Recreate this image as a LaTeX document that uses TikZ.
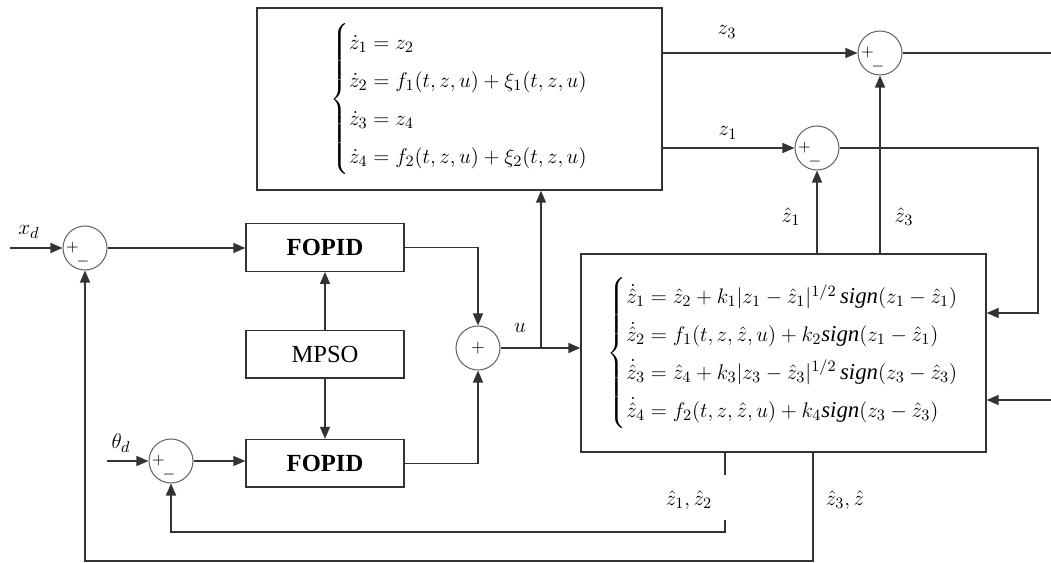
\documentclass[tikz,border=0pt]{standalone}
\usepackage{amsmath}
\usepackage{fontspec}
\setmainfont{Liberation Serif}
\usepackage{tikz}
\usetikzlibrary{arrows.meta,calc,positioning}
\definecolor{Line}{HTML}{333333}
\definecolor{Ring}{HTML}{666666}
\tikzset{block/.style={draw=Line,line width=.8pt,minimum width=3.16cm,minimum height=.95cm,align=center,font=\fontsize{14}{16}\selectfont},eqbox/.style={draw=Line,line width=.8pt,minimum width=8.1cm,align=left,inner sep=0pt,font=\fontsize{13}{16}\selectfont},sum/.style={circle,draw=Ring,line width=.6pt,minimum size=.88cm,inner sep=0pt},pm/.style={sum,path picture={\node[font=\small] at ([xshift=-.25cm]path picture bounding box.center){$+$};\node[font=\small] at ([xshift=-.04cm,yshift=-.27cm]path picture bounding box.center){$-$};}},flow/.style={-{Triangle[length=2.4mm,width=2mm]},line width=.8pt,draw=Line},wire/.style={line width=.8pt,draw=Line},sig/.style={font=\fontsize{13}{15}\selectfont}}

\begin{document}
\begin{tikzpicture}[x=0.02cm,y=-0.02cm]
      \useasboundingbox (0,0) rectangle (1051,563);
      % system and observer
      \node[eqbox,minimum height=3.64cm](plant) at (459.5,99){\renewcommand{\arraystretch}{1.35}$\left\{\begin{array}{@{}l@{}}
        \dot z_1 = z_2\\
        \dot z_2 = f_1(t,z,u)+\xi_1(t,z,u)\\
        \dot z_3 = z_4\\
        \dot z_4 = f_2(t,z,u)+\xi_2(t,z,u)
        \end{array}\right.$};
      \node[eqbox,minimum height=3.96cm](obs) at (783.5,353){\renewcommand{\arraystretch}{1.35}$\left\{\begin{array}{@{}l@{}}
        \dot{\hat z}_1 = \hat z_2+k_1|z_1-\hat z_1|^{1/2}\,\mathit{sign}(z_1-\hat z_1)\\
        \dot{\hat z}_2 = f_1(t,z,\hat z,u)+k_2\mathit{sign}(z_1-\hat z_1)\\
        \dot{\hat z}_3 = \hat z_4+k_3|z_3-\hat z_3|^{1/2}\,\mathit{sign}(z_3-\hat z_3)\\
        \dot{\hat z}_4 = f_2(t,z,\hat z,u)+k_4\mathit{sign}(z_3-\hat z_3)
        \end{array}\right.$};
      % controllers
      \node[block](fopid1) at (325,247.5){\textbf{FOPID}};
      \node[block,below=1.16cm of fopid1](mpso){MPSO};
      \node[block,below=1.2cm of mpso](fopid2){\textbf{FOPID}};
      % summing junctions
      \node[pm](sumx) at (85,248){};
      \node[pm](sumth) at (171,461){};
      \node[sum](sumu) at (478,348){$+$};
      \node[pm](sum1) at (817,148){};
      \node[pm](sum3) at (880,53){};
      \coordinate (xin) at (10,248);
      \coordinate (thin) at (107,461);
      \coordinate (ujn) at (541,348);
      \coordinate (zout) at (1051,53);
      \coordinate (bend1) at (1038,313);
      \coordinate (ext) at (1051,400);
      \coordinate (fbA) at (725,475);
      \coordinate (fbB) at (725,520);
      \coordinate (fbC) at (725,532);
      \coordinate (fbD) at (813,561);
      % signal labels
      \node[sig](lxd) at (29,232){$x_d$};
      \node[sig](lth) at (121,443){$\theta_d$};
      \node[sig](lu) at (520,328){$u$};
      \node[sig](lz3) at (727,32){$z_3$};
      \node[sig](lz1) at (728,133){$z_1$};
      \node[sig](lzh1) at (791,217){$\hat z_1$};
      \node[sig](lzh3) at (904,217){$\hat z_3$};
      \node[sig](lzh12) at (689,500){$\hat z_1,\hat z_2$};
      \node[sig](lzh3z) at (845,500){$\hat z_3,\hat z$};
      % connections
      \draw[flow](xin)--(sumx.west);
      \draw[flow](sumx.east)--(sumx.east-|fopid1.west);
      \draw[flow](mpso)--(fopid1);
      \draw[flow](mpso)--(fopid2);
      \draw[flow](thin)--(sumth.west);
      \draw[flow](sumth.east)--(sumth.east-|fopid2.west);
      \draw[flow](fopid1.east)-|(sumu.north);
      \draw[flow](fopid2.east)-|(sumu.south);
      \draw[flow](sumu.east)--(sumu.east-|obs.west);
      \draw[flow](ujn)--(ujn|-plant.south);
      \draw[flow](sum3.west-|plant.east)--(sum3.west);
      \draw[flow](sum1.west-|plant.east)--(sum1.west);
      \draw[flow](obs.north-|sum1)--(sum1.south);
      \draw[flow](obs.north-|sum3)--(sum3.south);
      \draw[wire](sum3.east)--(zout);
      \draw[flow](sum1.east)-|(bend1)--(bend1-|obs.east);
      \draw[flow](ext)--(ext-|obs.east);
      \draw[wire](obs.south-|fbA)--(fbA);
      \draw[flow](fbB)--(fbC)-|(sumth.south);
      \draw[flow](obs.south-|fbD)--(fbD)-|(sumx.south);
    \end{tikzpicture}
\end{document}
